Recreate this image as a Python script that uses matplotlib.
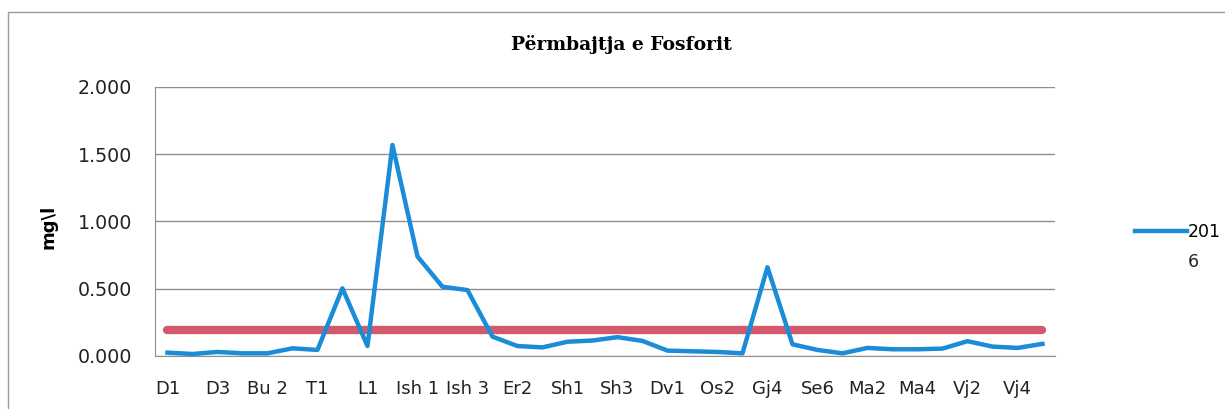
import numpy as np
import matplotlib.pyplot as plt
from matplotlib.patches import Rectangle

# Sampling stations (only every other one is labelled on the axis)
stations = ['D1', 'D2', 'D3', 'Bu 1', 'Bu 2', 'Bu 3', 'T1', 'T2', 'L1', 'L2',
            'Ish 1', 'Ish 2', 'Ish 3', 'Er1', 'Er2', 'Er3', 'Sh1', 'Sh2', 'Sh3', 'Sh4',
            'Dv1', 'Os1', 'Os2', 'Gj3', 'Gj4', 'Se5', 'Se6', 'Ma1', 'Ma2', 'Ma3',
            'Ma4', 'Vj1', 'Vj2', 'Vj3', 'Vj4', 'Vj5']

# Phosphorus content 2016 (mg/l)
fosfor_2016 = [0.025, 0.015, 0.030, 0.020, 0.020, 0.057, 0.045, 0.503, 0.074, 1.569,
               0.740, 0.515, 0.490, 0.144, 0.074, 0.064, 0.106, 0.115, 0.140, 0.112,
               0.040, 0.035, 0.030, 0.020, 0.660, 0.087, 0.045, 0.020, 0.060, 0.050,
               0.050, 0.055, 0.110, 0.070, 0.060, 0.090]

# Reference limit line
limit = [0.19] * len(stations)

BLUE = '#1A8CD8'
RED = '#D25A6C'
FONT = 'DejaVu Sans'

fig = plt.figure(figsize=(12.25, 4.09), dpi=100)
ax = fig.add_axes([0.1265, 0.1296, 0.7347, 0.6577])

x = np.arange(len(stations))
ax.plot(x, limit, color=RED, lw=6, solid_capstyle='round', zorder=3)
line, = ax.plot(x, fosfor_2016, color=BLUE, lw=3.2, zorder=4)

ax.set_xlim(-0.5, len(stations) - 0.5)
ax.set_ylim(0, 2.0)
ax.set_yticks(np.arange(0, 2.01, 0.5))
ax.set_yticklabels(['%.3f' % v for v in np.arange(0, 2.01, 0.5)])
ax.set_xticks(x[::2])
ax.set_xticklabels(stations[::2])

ax.grid(axis='y', color='#8e8e8e', lw=1)
ax.set_axisbelow(True)
for s in ['top', 'right']:
    ax.spines[s].set_visible(False)
ax.spines['left'].set_color('#8e8e8e')
ax.spines['bottom'].set_color('#8e8e8e')
ax.tick_params(axis='both', length=0, colors='#222222')
ax.tick_params(axis='x', pad=17, labelsize=13)
ax.tick_params(axis='y', pad=16.5, labelsize=13.7)
for lbl in ax.get_xticklabels() + ax.get_yticklabels():
    lbl.set_family(FONT)

ax.set_ylabel('mg\\l', fontsize=13, fontweight='bold', family=FONT)
ax.yaxis.set_label_coords(-0.108, 0.48)

fig.text(0.507, 1 - 44 / 409, 'Përmbajtja e Fosforit', ha='center', va='center',
         fontsize=13.5, fontweight='bold', family='DejaVu Serif')

fig.legend([line], ['201'], loc='center left', bbox_to_anchor=(1135 / 1225, 1 - 232 / 409),
           frameon=False, handlelength=3.0, handletextpad=0.05, borderpad=0,
           borderaxespad=0, prop={'family': FONT, 'size': 12.5})
fig.text(1188 / 1225, 1 - 262 / 409, '6', ha='left', va='center',
         fontsize=12.5, family=FONT, color='#222222')

# outer chart frame
fig.patches.append(Rectangle((8 / 1225, -0.1), 1.2, 1.1 - 12 / 409, transform=fig.transFigure,
                             fill=False, edgecolor='#9a9a9a', lw=1))

fig.savefig('out.png', dpi=100)
